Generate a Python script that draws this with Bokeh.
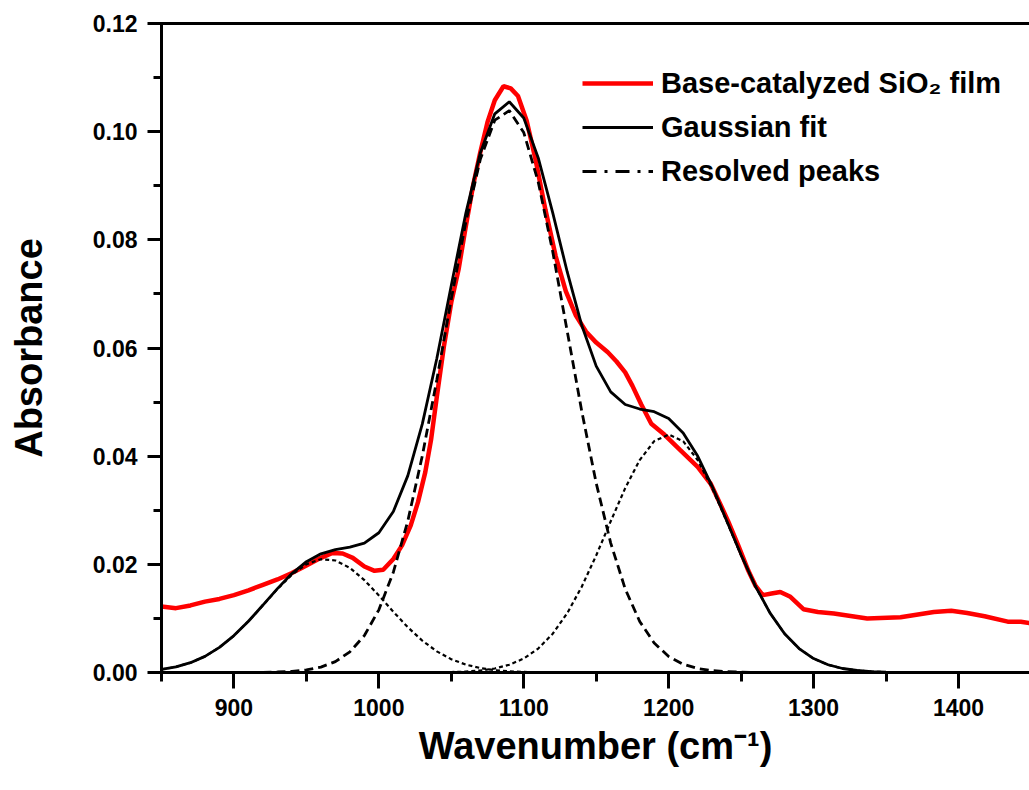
from bokeh.plotting import figure
from bokeh.models import (Range1d, SingleIntervalTicker, FixedTicker, LinearAxis, Legend,
                          LegendItem, PrintfTickFormatter)
from bokeh.embed import file_html
from bokeh.resources import INLINE

wn_film = [850, 860, 870, 880, 890, 900, 910, 920, 930, 940, 950, 960, 968, 975,
           982, 990, 997, 1003, 1010, 1016, 1022, 1027, 1032, 1036, 1040, 1045,
           1050, 1055, 1060, 1065, 1070, 1075, 1080, 1086, 1091, 1096, 1102, 1108,
           1115, 1122, 1129, 1136, 1143, 1150, 1158, 1164, 1170, 1175, 1181, 1188,
           1197, 1208, 1220, 1229, 1235, 1241, 1248, 1255, 1260, 1265, 1271, 1277,
           1284, 1293, 1303, 1314, 1337, 1360, 1383, 1395, 1406, 1418, 1434, 1443, 1450]
abs_film = [0.0122, 0.0119, 0.0124, 0.0131, 0.0136, 0.0143, 0.0152, 0.0162, 0.0172,
            0.0184, 0.0198, 0.0212, 0.0221, 0.0220, 0.0212, 0.0196, 0.0188, 0.0190,
            0.0210, 0.0235, 0.0272, 0.0315, 0.0370, 0.0430, 0.0510, 0.0605, 0.0685,
            0.0745, 0.0825, 0.0900, 0.0962, 0.1018, 0.1058, 0.1084, 0.1080, 0.1066,
            0.1020, 0.0950, 0.0855, 0.0770, 0.0705, 0.0660, 0.0630, 0.0610, 0.0592,
            0.0575, 0.0555, 0.0530, 0.0496, 0.0460, 0.0440, 0.0411, 0.0380, 0.0349,
            0.0315, 0.0280, 0.0235, 0.0188, 0.0160, 0.0143, 0.0146, 0.0149, 0.0140,
            0.0117, 0.0112, 0.0109, 0.0100, 0.0102, 0.0112, 0.0114, 0.0110, 0.0104,
            0.0094, 0.0094, 0.0091]

wn_fit = [850, 860, 870, 880, 890, 900, 910, 920, 930, 940, 950, 960, 970, 980, 990,
          1000, 1010, 1020, 1030, 1040, 1050, 1060, 1070, 1080, 1090, 1100, 1110,
          1120, 1130, 1140, 1150, 1160, 1170, 1180, 1190, 1200, 1210, 1220, 1230,
          1240, 1250, 1260, 1270, 1280, 1290, 1300, 1310, 1320, 1330, 1340, 1350,
          1360, 1370]
abs_fit = [0.00056, 0.00104, 0.00181, 0.00298, 0.00464, 0.00682, 0.00948, 0.01247,
           0.01551, 0.01829, 0.02049, 0.02195, 0.02272, 0.02317, 0.02391, 0.02584,
           0.02977, 0.03640, 0.04597, 0.05806, 0.07161, 0.08490, 0.09607, 0.10330,
           0.10554, 0.10252, 0.09515, 0.08499, 0.07406, 0.06419, 0.05665, 0.05189,
           0.04955, 0.04872, 0.04822, 0.04697, 0.04430, 0.04002, 0.03443, 0.02811,
           0.02172, 0.01588, 0.01098, 0.00717, 0.00443, 0.00258, 0.00143, 0.00074,
           0.00037, 0.00017, 0.00008, 0.00003, 0.00001]

wn_peak1 = [850, 860, 870, 880, 890, 900, 910, 920, 930, 940, 950, 960, 970, 980,
            990, 1000, 1010, 1020, 1030, 1040, 1050, 1060, 1070, 1080, 1090, 1100,
            1110, 1120, 1130, 1140]
abs_peak1 = [0.00056, 0.00104, 0.00181, 0.00298, 0.00464, 0.00682, 0.00947, 0.01243,
             0.01542, 0.01808, 0.02002, 0.02095, 0.02071, 0.01935, 0.01708, 0.01425,
             0.01123, 0.00836, 0.00588, 0.00391, 0.00246, 0.00146, 0.00082, 0.00043,
             0.00022, 0.00010, 0.00005, 0.00002, 0.00001, 0.0]

wn_peak2 = [910, 920, 930, 940, 950, 960, 970, 980, 990, 1000, 1010, 1020, 1030, 1040,
            1050, 1060, 1070, 1080, 1090, 1100, 1110, 1120, 1130, 1140, 1150, 1160,
            1170, 1180, 1190, 1200, 1210, 1220, 1230, 1240, 1250, 1260, 1270]
abs_peak2 = [0.00001, 0.00004, 0.00009, 0.00021, 0.00047, 0.00100, 0.00201, 0.00382,
             0.00683, 0.01159, 0.01854, 0.02804, 0.04008, 0.05412, 0.06907, 0.08327,
             0.09488, 0.10213, 0.10389, 0.09984, 0.09067, 0.07780, 0.06308, 0.04833,
             0.03499, 0.02393, 0.01546, 0.00944, 0.00545, 0.00297, 0.00153, 0.00074,
             0.00034, 0.00015, 0.00006, 0.00002, 0.00001]

wn_peak3 = [1030, 1040, 1050, 1060, 1070, 1080, 1090, 1100, 1110, 1120, 1130, 1140,
            1150, 1160, 1170, 1180, 1190, 1200, 1210, 1220, 1230, 1240, 1250, 1260,
            1270, 1280, 1290, 1300, 1310, 1320, 1330, 1340, 1350, 1360, 1370]
abs_peak3 = [0.00001, 0.00003, 0.00008, 0.00017, 0.00037, 0.00074, 0.00143, 0.00258,
             0.00443, 0.00717, 0.01097, 0.01586, 0.02166, 0.02796, 0.03409, 0.03928,
             0.04277, 0.04400, 0.04277, 0.03928, 0.03409, 0.02796, 0.02166, 0.01586,
             0.01097, 0.00717, 0.00443, 0.00258, 0.00143, 0.00074, 0.00037, 0.00017,
             0.00008, 0.00003, 0.00001]

x_tick_step = 100
y_tick_step = 0.02

legend_labels = ["Base-catalyzed SiO\u2082 film", "Gaussian fit", "Resolved peaks"]
x_title = "Wavenumber (cm\u207b\u00b9)"
y_title = "Absorbance"

FONT = "Liberation Sans"

p = figure(width=1029, height=782, output_backend="svg", toolbar_location=None,
           x_range=Range1d(850, 1449), y_range=Range1d(0, 0.12),
           min_border_left=161, min_border_right=0, min_border_top=23,
           min_border_bottom=110)
p.outline_line_color = None
p.xgrid.visible = False
p.ygrid.visible = False
p.background_fill_color = "white"
p.border_fill_color = "white"

r_film = p.line(wn_film, abs_film, line_color="#ff0000", line_width=4.5)
r_fit = p.line(wn_fit, abs_fit, line_color="black", line_width=2.8)
p.line(wn_peak1, abs_peak1, line_color="black", line_width=2.2, line_dash="4 3")
p.line(wn_peak2, abs_peak2, line_color="black", line_width=2.8, line_dash="9 5")
p.line(wn_peak3, abs_peak3, line_color="black", line_width=2.2, line_dash="4 3")
r_leg = p.line(wn_peak1, abs_peak1, line_color="black", line_width=2.8,
               line_dash="14 8 3 8", visible=False)

xa = p.xaxis[0]
xa.ticker = SingleIntervalTicker(interval=x_tick_step, num_minor_ticks=2)
xa.axis_label = x_title
ya = p.yaxis[0]
ya.ticker = SingleIntervalTicker(interval=y_tick_step, num_minor_ticks=2)
ya.formatter = PrintfTickFormatter(format="%.2f")
ya.axis_label = y_title

for ax in (xa, ya):
    ax.axis_line_width = 3
    ax.axis_line_color = "black"
    ax.major_tick_line_width = 3
    ax.minor_tick_line_width = 3
    ax.major_tick_line_color = "black"
    ax.minor_tick_line_color = "black"
    ax.major_label_text_font = FONT
    ax.major_label_text_font_style = "bold"
    ax.major_label_text_font_size = "23px"
    ax.major_label_text_color = "black"
    ax.axis_label_text_font = FONT
    ax.axis_label_text_font_style = "bold"
    ax.axis_label_text_font_size = "38px"
    ax.axis_label_text_color = "black"

xa.major_tick_in = 1
xa.major_tick_out = 16
xa.minor_tick_in = 1
xa.minor_tick_out = 9
xa.major_label_standoff = 10
xa.axis_label_standoff = 6
ya.major_tick_in = 1
ya.major_tick_out = 14
ya.minor_tick_in = 1
ya.minor_tick_out = 8
ya.major_label_standoff = 10
ya.axis_label_standoff = 40

top = LinearAxis(ticker=FixedTicker(ticks=[]), axis_line_width=3, axis_line_color="black",
                 major_tick_out=0, minor_tick_out=0)
p.add_layout(top, "above")

legend = Legend(items=[LegendItem(label=legend_labels[0], renderers=[r_film]),
                       LegendItem(label=legend_labels[1], renderers=[r_fit]),
                       LegendItem(label=legend_labels[2], renderers=[r_leg])],
                location=(421, 481))
legend.label_text_font = FONT
legend.label_text_font_style = "bold"
legend.label_text_font_size = "29px"
legend.label_text_color = "black"
legend.glyph_width = 71
legend.glyph_height = 40
legend.label_height = 40
legend.label_standoff = 8
legend.spacing = 4
legend.padding = 0
legend.margin = 0
legend.border_line_color = None
legend.background_fill_alpha = 0
legend.inactive_fill_alpha = 0
p.add_layout(legend)

open("out.html", "w").write(file_html(p, INLINE))
